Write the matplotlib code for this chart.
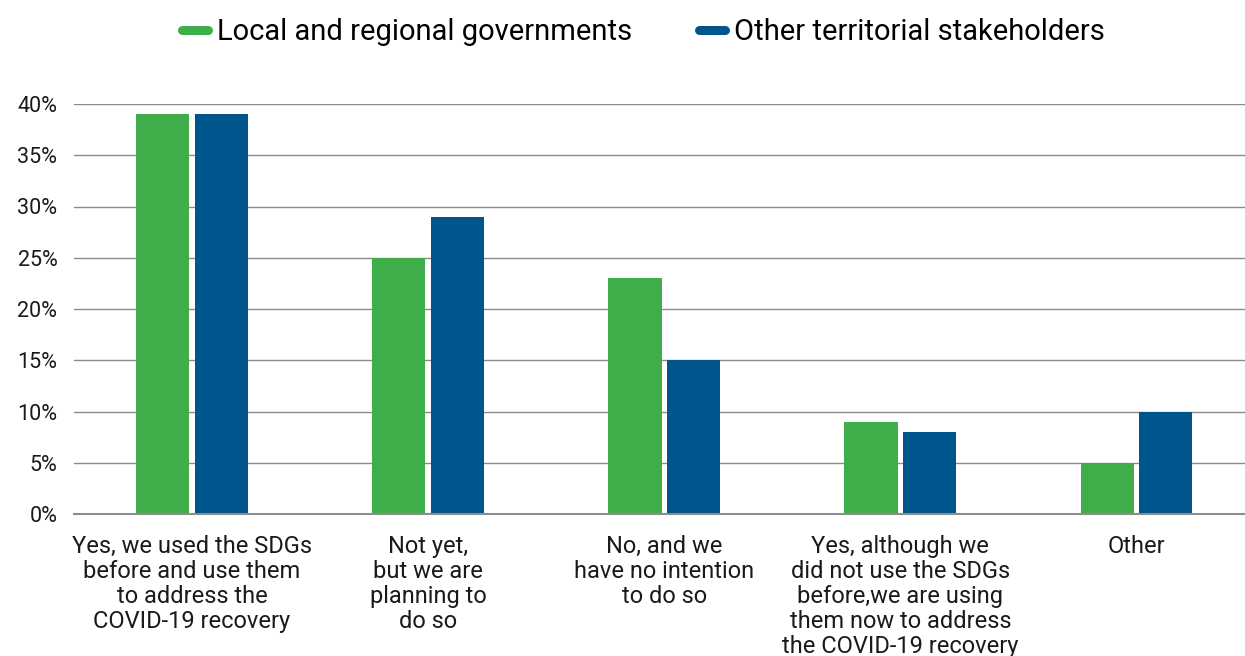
import numpy as np
import matplotlib
matplotlib.use("Agg")
import matplotlib.pyplot as plt
from matplotlib.lines import Line2D

plt.rcParams["font.family"] = ["Roboto", "DejaVu Sans"]

## data: share of respondents per answer (%)
categories = [
    "Yes, we used the SDGs\nbefore and use them\nto address the\nCOVID-19 recovery",
    "Not yet,\nbut we are\nplanning to\ndo so",
    "No, and we\nhave no intention\nto do so",
    "Yes, although we\ndid not use the SDGs\nbefore,we are using\nthem now to address\nthe COVID-19 recovery",
    "Other",
]
series_names = ["Local and regional governments", "Other territorial stakeholders"]
local_gov = [39, 25, 23, 9, 5]
other_stake = [39, 29, 15, 8, 10]
yticks = [0, 5, 10, 15, 20, 25, 30, 35, 40]

green = "#3fae4a"
blue = "#00568c"

W, H = 1245, 656
fig = plt.figure(figsize=(W / 100, H / 100), dpi=100)
ax = fig.add_axes([74 / W, 1 - 514 / H, 1 - 74 / W, 410 / H])

x = np.arange(len(categories))
bw = 0.225
off = 0.124
ax.bar(x - off, local_gov, width=bw, color=green, zorder=3)
ax.bar(x + off, other_stake, width=bw, color=blue, zorder=3)

ax.set_xlim(-0.5, 4.46)
ax.set_ylim(0, 40)
ax.set_yticks(yticks)
ax.set_yticklabels([f"{v}%" for v in yticks], fontsize=15.5, color="#1a1a1a")
ax.tick_params(axis="y", length=0, pad=12)
ax.set_xticks(x)
ax.set_xticklabels(categories, fontsize=17, color="#1a1a1a", linespacing=1.12, va="top")
ax.tick_params(axis="x", length=0, pad=15)

ax.grid(axis="y", color="#8c8c8c", linewidth=1.0, zorder=0)
for s in ["top", "right", "left"]:
    ax.spines[s].set_visible(False)
ax.spines["bottom"].set_color("#8c8c8c")
ax.spines["bottom"].set_linewidth(1.5)
ax.spines["bottom"].set_zorder(4)

handles = [
    Line2D([0], [0], color=green, linewidth=6.5, solid_capstyle="round"),
    Line2D([0], [0], color=blue, linewidth=6.5, solid_capstyle="round"),
]
fig.legend(
    handles,
    series_names,
    loc="center",
    bbox_to_anchor=(643 / W, 1 - 32 / H),
    ncol=2,
    frameon=False,
    fontsize=21,
    handlelength=0.9,
    handletextpad=0.3,
    columnspacing=2.3,
)

fig.savefig("out.png", dpi=100)
